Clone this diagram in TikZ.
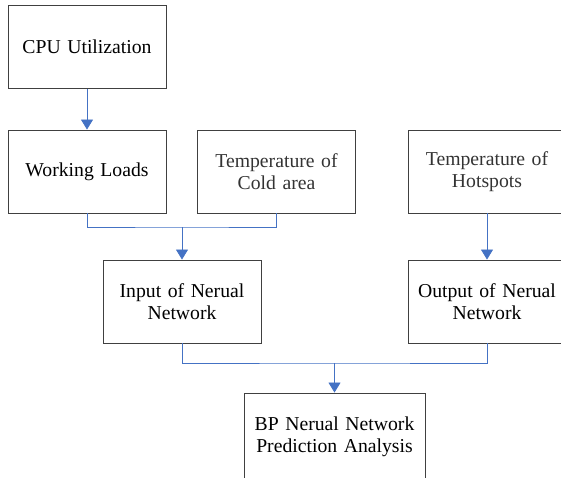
\documentclass[tikz,border=0pt]{standalone}
\usepackage{fontspec}
\setmainfont{Liberation Serif}
\usetikzlibrary{arrows.meta}
\definecolor{linkblue}{RGB}{68,114,196}
\definecolor{boxgray}{RGB}{64,64,64}

\begin{document}
\begin{tikzpicture}[x=1pt,y=-1pt,
  box/.style={draw=boxgray,line width=0.9pt,minimum width=158pt,minimum height=83pt,
    text width=156pt,align=center,inner sep=0pt,
    font=\fontsize{19.7}{22}\selectfont},
  link/.style={draw=linkblue,line width=0.8pt},
  flow/.style={link,-{Triangle[width=12pt,length=10pt]}}]
\useasboundingbox (0,0) rectangle (561,478);
            % Boxes
\node[box] (cpu)  at (87  ,47   ) {CPU Utilization};
\node[box] (load) at (87  ,171.5) {Working Loads};
\node[box,text=black!80] (cold) at (276.5,171.5) {Temperature of\\Cold area};
\node[box,text=black!80] (hot)  at (487 ,171.5) {Temperature of\\Hotspots};
\node[box] (in)   at (182 ,301.5) {Input of Nerual\\Network};
\node[box] (out)  at (487 ,301.5) {Output of Nerual\\Network};
\node[box,minimum width=181pt,text width=179pt,minimum height=88pt] (bp) at (334.5,437) {BP Nerual Network\\Prediction Analysis};
%Joints
\coordinate (j1) at (182,227);
\coordinate (j2) at (334.5,363);
%Connections
\draw[flow] (cpu) -- (load);
\draw[link] (load.south) |- (j1) -| (cold.south);
\draw[flow] (j1) -- (in);
\draw[flow] (hot) -- (out);
\draw[link] (in.south) |- (j2) -| (out.south);
\draw[flow] (j2) -- (bp);

          \end{tikzpicture}
\end{document}
